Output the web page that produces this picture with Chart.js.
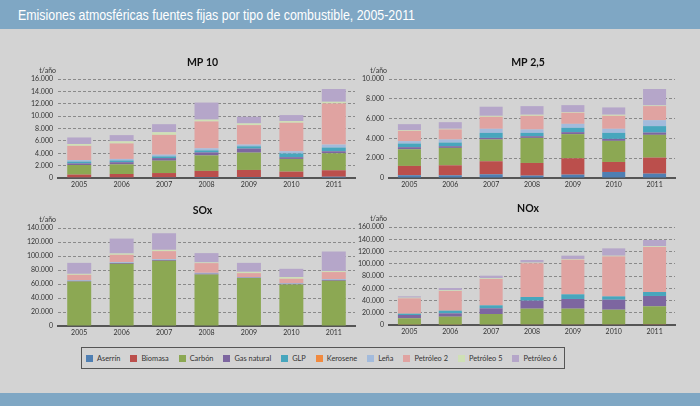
<!DOCTYPE html>
<html><head><meta charset="utf-8">
<script src="https://cdn.jsdelivr.net/npm/chart.js@4"></script>
<style>
html,body{margin:0;padding:0;}
body{width:700px;height:406px;background:#d3d3d3;position:relative;overflow:hidden;font-family:Lato,sans-serif;}
#top{position:absolute;left:0;top:0;width:700px;height:29px;background:#7fa7c4;}
#title{position:absolute;left:18px;top:8px;color:#fff;font-size:14.5px;line-height:14px;font-family:"Liberation Sans",Arial,sans-serif;white-space:nowrap;transform-origin:0 0;}
#bottom{position:absolute;left:0;top:393px;width:700px;height:13px;background:#7fa7c4;}
.c{position:absolute;}
#legend{position:absolute;left:81px;top:347px;width:484px;height:22px;box-sizing:border-box;border:1.5px solid #555;display:flex;align-items:center;padding-left:4px;font-family:Lato,sans-serif;font-size:7.4px;color:#333;}
.li{display:flex;align-items:center;margin-right:10px;white-space:nowrap;}
.sw{width:7px;height:7px;margin-right:4px;}
</style>
</head><body>
<div id="top"><span id="title">Emisiones atmosféricas fuentes fijas por tipo de combustible, 2005-2011</span></div>
<div id="bottom"></div>
<div class="c" style="left:0;top:40px;width:356px;height:150px;"><canvas id="c1" width="356" height="150"></canvas></div>
<div class="c" style="left:356px;top:40px;width:344px;height:150px;"><canvas id="c2" width="344" height="150"></canvas></div>
<div class="c" style="left:0;top:190px;width:356px;height:150px;"><canvas id="c3" width="356" height="150"></canvas></div>
<div class="c" style="left:356px;top:190px;width:344px;height:150px;"><canvas id="c4" width="344" height="150"></canvas></div>
<div id="legend"></div>
<script>
const years = ['2005','2006','2007','2008','2009','2010','2011'];
const fuels = ['Aserrín','Biomasa','Carbón','Gas natural','GLP','Kerosene','Leña','Petróleo 2','Petróleo 5','Petróleo 6'];
const fuelColors = ['#4f7fb3','#bb4f4c','#8ca853','#7d66a0','#47a6bd','#f18a3f','#a3bbdc','#e0a3a1','#cfe0b5','#b5a6c9'];

// rows follow the order of `fuels`
const mp10 = [
  [100,100,120,150,150,130,200],
  [450,550,680,1000,1150,900,1050],
  [1550,1550,2000,2500,2800,2050,2750],
  [250,350,420,480,650,280,320],
  [300,280,270,330,370,600,600],
  [0,0,0,0,0,0,0],
  [250,250,280,330,280,370,480],
  [2300,2500,3200,4350,3150,4600,6650],
  [300,350,430,300,270,270,270],
  [1050,1000,1300,2750,1080,970,2060]
];
const mp25 = [
  [280,270,370,240,340,610,440],
  [940,1010,1320,1280,1650,1010,1620],
  [1680,1760,2200,2530,2440,2130,2300],
  [210,170,160,170,200,200,230],
  [370,370,510,340,440,610,650],
  [0,0,0,0,0,0,0],
  [240,310,410,340,400,410,600],
  [1040,1010,1210,1380,1120,1310,1420],
  [70,70,100,110,70,110,70],
  [610,670,920,870,700,740,1660]
];
const sox = [
  [0,0,0,0,0,0,0],
  [0,0,0,0,0,0,0],
  [63500,88800,93100,73600,68400,59400,64600],
  [1000,1200,1200,1200,700,900,1200],
  [0,0,0,0,0,0,0],
  [0,0,0,0,0,0,0],
  [1000,1200,1200,1200,700,1000,1200],
  [7600,10500,11400,13800,5700,6200,10000],
  [1400,1900,1900,1000,1900,2400,1400],
  [15700,21300,23700,13300,12800,11800,28000]
];
const nox = [
  [0,0,0,0,0,0,0],
  [500,500,700,1000,1000,1000,1200],
  [10400,13100,17300,25700,25700,24000,29300],
  [5400,5400,9200,13000,15800,16300,16900],
  [2200,4400,4900,6000,7600,5400,6500],
  [0,0,0,0,0,0,0],
  [0,0,0,0,0,0,0],
  [25000,32100,43000,55000,56600,65300,73500],
  [1100,1100,1100,1100,1100,1100,1100],
  [2200,3800,4300,4300,5400,12000,10300]
];

// title scaling (condensed look)
(function(){
  const t=document.getElementById('title');
  const w=t.getBoundingClientRect().width;
  t.style.transform='scaleX('+(397/w)+')';
})();

// legend
const lg=document.getElementById('legend');
fuels.forEach((f,i)=>{
  const d=document.createElement('div');d.className='li';
  d.innerHTML='<span class="sw" style="background:'+fuelColors[i]+'"></span>'+f;
  lg.appendChild(d);
});

function fmt(v){return String(v).replace(/\B(?=(\d{3})+(?!\d))/g,'.');}

const lblPlugin={
  id:'lbl',
  afterDraw(chart,args,opts){
    const {ctx,chartArea:a}=chart;
    ctx.save();
    ctx.fillStyle='#111';
    ctx.font='bold 10.5px Lato';
    ctx.textAlign='center';ctx.textBaseline='middle';
    ctx.fillText(opts.text,(a.left+a.right)/2-4,opts.y);
    ctx.font='7px Lato';ctx.fillStyle='#333';ctx.textAlign='right';
    ctx.fillText('t/año',a.left-2,a.top-8);
    ctx.restore();
  }
};

function make(id,title,titleY,rows,max,step,pad,yW,xH,barPct){
  new Chart(document.getElementById(id),{
    type:'bar',
    data:{labels:years,datasets:fuels.map((f,i)=>({label:f,data:rows[i],backgroundColor:fuelColors[i],borderWidth:0}))},
    options:{
      responsive:false,animation:false,
      layout:{padding:pad},
      datasets:{bar:{categoryPercentage:1,barPercentage:barPct}},
      plugins:{legend:{display:false},tooltip:{enabled:false},lbl:{text:title,y:titleY}},
      scales:{
        x:{stacked:true,grid:{display:false,drawTicks:false},
           border:{display:true,color:'#555',width:2},
           ticks:{font:{family:'Lato',size:7},color:'#333',padding:3,maxRotation:0},
           afterFit(s){s.height=xH;}},
        y:{stacked:true,min:0,max:max,
           grid:{color:'#8a8a8a',drawTicks:false,lineWidth:1},
           border:{display:false,dash:[3,2]},
           ticks:{stepSize:step,font:{family:'Lato',size:7},color:'#333',padding:5,callback:v=>fmt(v)},
           afterFit(s){s.width=yW;}}
      }
    },
    plugins:[lblPlugin]
  });
}
make('c1','MP 10',23,mp10,16000,2000,{top:39,right:1,left:0,bottom:0},58,12,0.565);
make('c2','MP 2,5',23,mp25,10000,1000,{top:39,right:25,left:0,bottom:0},33,12,0.564);
make('c3','SOx',21,sox,140000,20000,{top:38,right:1,left:0,bottom:0},58,14,0.565);
make('c4','NOx',19,nox,160000,20000,{top:37,right:25,left:0,bottom:0},33,15,0.564);
</script>
</body></html>
